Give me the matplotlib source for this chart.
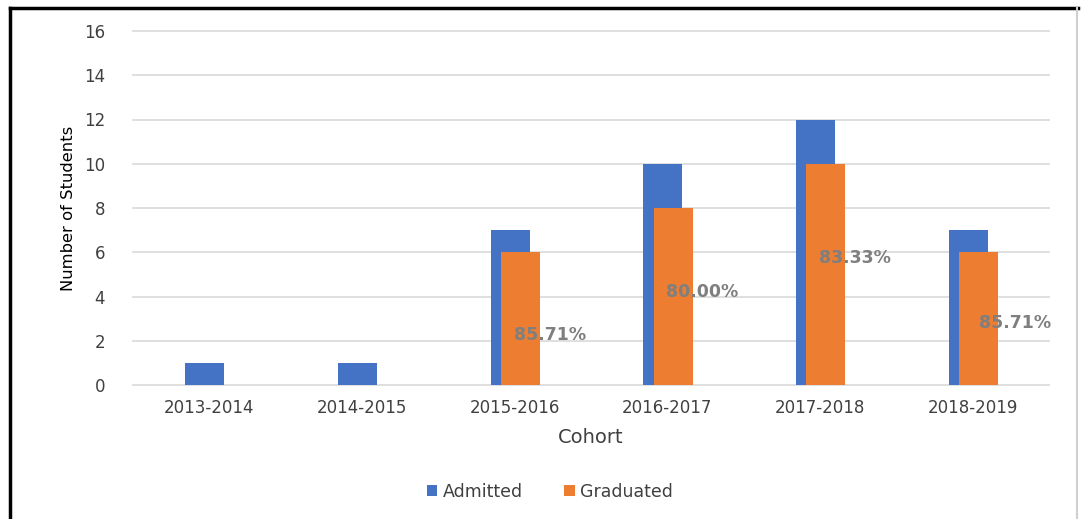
import matplotlib
matplotlib.use("Agg")
import matplotlib.pyplot as plt
from matplotlib.lines import Line2D
import numpy as np

cohorts = ["2013-2014", "2014-2015", "2015-2016", "2016-2017", "2017-2018", "2018-2019"]
admitted = [1, 1, 7, 10, 12, 7]
graduated = [0, 0, 6, 8, 10, 6]
rate_labels = ["", "", "85.71%", "80.00%", "83.33%", "85.71%"]
rate_label_y = [None, None, 2.25, 4.2, 5.75, 2.8]
rate_label_dx = [0, 0, 0.23, 0.23, 0.23, 0.28]

plt.rcParams['font.family'] = ['DejaVu Sans']

W, H = 1084, 519
fig = plt.figure(figsize=(W / 100, H / 100), dpi=100)
ax = fig.add_axes([133 / W, 1 - 385 / H, (1049 - 133) / W, (385 - 31) / H])

x = np.arange(len(cohorts)) + 0.5
width = 0.255
ax.bar(x - 0.03, admitted, width, color="#4472C4", label="Admitted", zorder=2)
ax.bar(x + 0.038, graduated, width, color="#ED7D31", label="Graduated", zorder=3)

for xi, lab, ly, dx in zip(x, rate_labels, rate_label_y, rate_label_dx):
    if lab:
        ax.text(xi + dx, ly, lab, ha="center", va="center", color="#7F7F7F",
                fontsize=12.5, fontweight="bold", zorder=4)

ax.set_xlim(0, len(cohorts))
ax.set_ylim(0, 16)
ax.set_yticks(range(0, 17, 2))
ax.set_xticks(x)
ax.set_xticklabels(cohorts)
ax.tick_params(axis="both", length=0, labelsize=12, colors="#404040")
ax.tick_params(axis="y", pad=20)
ax.tick_params(axis="x", pad=10)
ax.grid(axis="y", color="#D9D9D9", linewidth=1.2, zorder=0)
for gl in ax.get_ygridlines():
    gl.set_clip_on(False)
ax.set_axisbelow(True)
for s in ax.spines.values():
    s.set_visible(False)

ax.set_ylabel("Number of Students", fontsize=11.8, color="#000000", labelpad=6)
ax.set_xlabel("Cohort", fontsize=14, color="#404040", labelpad=8)

handles, labels = ax.get_legend_handles_labels()
fig.legend(handles, labels, loc="center", bbox_to_anchor=(550 / W, 1 - 492 / H), ncol=2,
           frameon=False, fontsize=12.5, handlelength=0.6, handleheight=0.6,
           columnspacing=2.4, handletextpad=0.3, labelcolor="#404040")

# figure frame
fig.add_artist(Line2D([10 / W, 10 / W], [0, 1 - 8 / H], color="black", linewidth=2.5,
                      transform=fig.transFigure))
fig.add_artist(Line2D([10 / W, 1078 / W], [1 - 8 / H, 1 - 8 / H], color="black", linewidth=2.5,
                      transform=fig.transFigure))
fig.add_artist(Line2D([1077 / W, 1077 / W], [0, 1 - 8 / H], color="#D0D0D0", linewidth=1.5,
                      transform=fig.transFigure))

fig.savefig("out.png", dpi=100, facecolor="white")
